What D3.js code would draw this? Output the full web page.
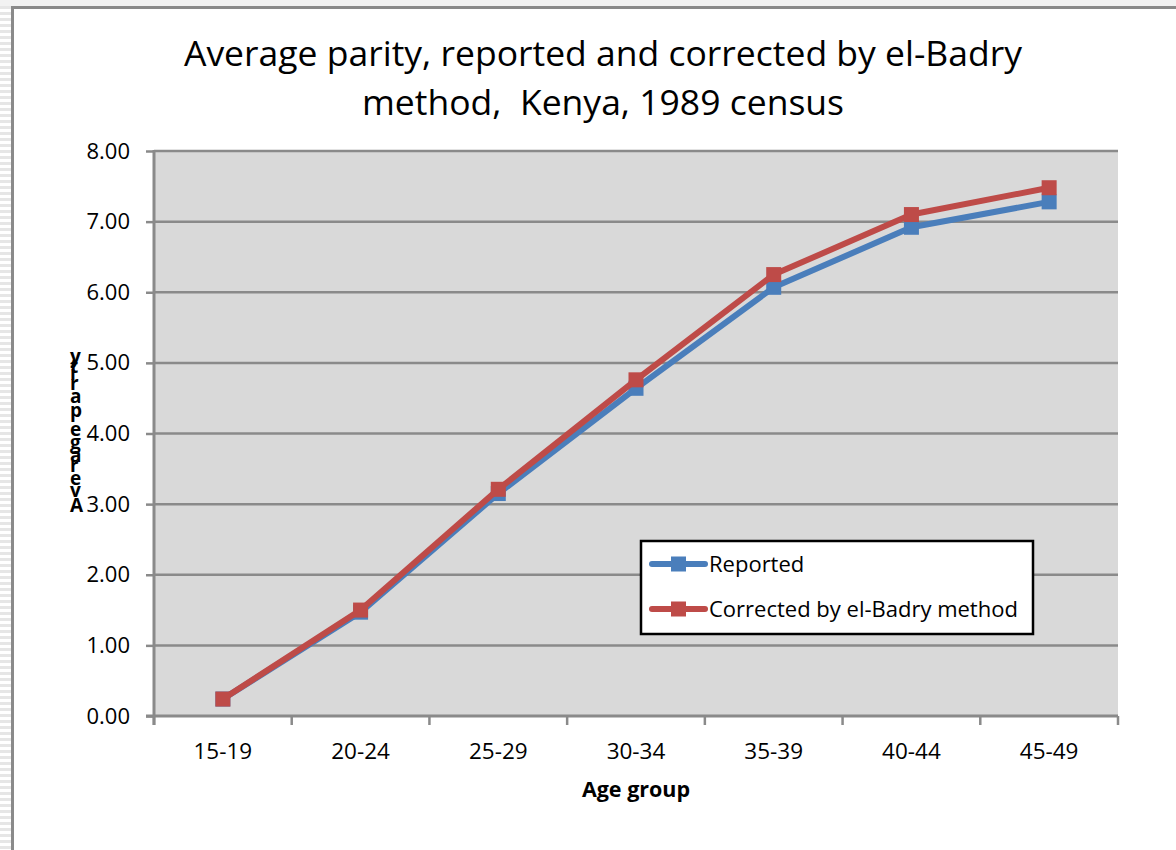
<!DOCTYPE html>
<html>
<head>
<meta charset="utf-8">
<script src="https://cdn.jsdelivr.net/npm/d3@7"></script>
<style>
  html, body { margin: 0; padding: 0; background: #fff; }
  svg { display: block; }
  text { white-space: pre; }
</style>
</head>
<body>
<svg id="chart" width="1176" height="850"></svg>
<script>
// Age groups on the x axis
const ageGroups = ["15-19", "20-24", "25-29", "30-34", "35-39", "40-44", "45-49"];
// Average parity, as reported in the census
const reported = [0.24, 1.47, 3.15, 4.64, 6.07, 6.92, 7.28];
// Average parity after the el-Badry correction
const corrected = [0.24, 1.50, 3.21, 4.76, 6.25, 7.10, 7.48];
// Y axis ticks
const yTicks = [0, 1, 2, 3, 4, 5, 6, 7, 8];

const seriesNames = ["Reported", "Corrected by el-Badry method"];
const seriesColors = ["#4a7ebb", "#be4b48"];

const svg = d3.select("#chart");
const W = 1176, H = 850;
const font = "'Open Sans', Lato, 'DejaVu Sans', sans-serif";

// Page frame: striped strip on the left, light band on top, grey border
const defs = svg.append("defs");
const pat = defs.append("pattern")
  .attr("id", "stripes").attr("width", 12).attr("height", 6)
  .attr("patternUnits", "userSpaceOnUse");
pat.append("rect").attr("width", 12).attr("height", 6).attr("fill", "#ffffff");
pat.append("rect").attr("y", 0).attr("width", 12).attr("height", 3).attr("fill", "#e6e6e6");
svg.append("rect").attr("x", 0).attr("y", 0).attr("width", 11).attr("height", H).attr("fill", "url(#stripes)");
svg.append("rect").attr("x", 0).attr("y", 0).attr("width", W).attr("height", 6).attr("fill", "#f2f2f2");
svg.append("rect").attr("x", 11).attr("y", 6).attr("width", W - 11).attr("height", H - 6).attr("fill", "#ffffff");
svg.append("path")
  .attr("d", `M12.5,${H} L12.5,7.5 L${W},7.5`)
  .attr("fill", "none").attr("stroke", "#8a8a8a").attr("stroke-width", 3);

// Plot area
const plot = { left: 154, right: 1118, top: 151, bottom: 716 };

const x = d3.scaleBand().domain(ageGroups).range([plot.left, plot.right]).padding(0);
const y = d3.scaleLinear().domain([0, 8]).range([plot.bottom, plot.top]);

svg.append("rect")
  .attr("x", plot.left).attr("y", plot.top)
  .attr("width", plot.right - plot.left).attr("height", plot.bottom - plot.top)
  .attr("fill", "#d9d9d9");

// Horizontal gridlines
svg.append("g").selectAll("line").data(yTicks.slice(1)).join("line")
  .attr("x1", plot.left).attr("x2", plot.right)
  .attr("y1", d => y(d)).attr("y2", d => y(d))
  .attr("stroke", "#8a8a8a").attr("stroke-width", 2.5);

// Y axis
const yAxis = svg.append("g")
  .attr("transform", `translate(${plot.left},0)`)
  .call(d3.axisLeft(y).tickValues(yTicks).tickFormat(d3.format(".2f")).tickSize(8).tickPadding(16));
yAxis.select(".domain").attr("stroke", "#8a8a8a").attr("stroke-width", 3)
  .attr("d", `M0,${plot.top - 1}V${plot.bottom + 9}`);
yAxis.selectAll(".tick line").attr("stroke", "#8a8a8a").attr("stroke-width", 2.5);
yAxis.selectAll(".tick text")
  .attr("font-family", font).attr("font-size", 22).attr("fill", "#000");

// X axis with ticks at category boundaries
const xAxis = svg.append("g").attr("transform", `translate(0,${plot.bottom})`);
xAxis.append("line")
  .attr("x1", plot.left - 8).attr("x2", plot.right)
  .attr("stroke", "#8a8a8a").attr("stroke-width", 3);
const bounds = ageGroups.map(d => x(d)).concat([x(ageGroups[ageGroups.length - 1]) + x.bandwidth()]);
xAxis.selectAll("line.tk").data(bounds).join("line").attr("class", "tk")
  .attr("x1", d => d).attr("x2", d => d).attr("y1", 0).attr("y2", 9)
  .attr("stroke", "#8a8a8a").attr("stroke-width", 2.5);
xAxis.selectAll("text").data(ageGroups).join("text")
  .attr("x", d => x(d) + x.bandwidth() / 2).attr("y", 43)
  .attr("text-anchor", "middle")
  .attr("font-family", font).attr("font-size", 22.5).attr("fill", "#000")
  .text(d => d);

// Axis titles
svg.append("text")
  .attr("x", (plot.left + plot.right) / 2).attr("y", 797)
  .attr("text-anchor", "middle")
  .attr("font-family", font).attr("font-size", 21.5).attr("font-weight", "bold")
  .text("Age group");

// Vertical title: runs bottom-to-top with each glyph turned upright
svg.append("text")
  .attr("transform", "translate(70,512) rotate(-90)")
  .attr("rotate", "90")
  .attr("letter-spacing", 1.6)
  .attr("font-family", font).attr("font-size", 19).attr("font-weight", "bold")
  .text("Average parity");

// Chart title
const title = svg.append("text")
  .attr("text-anchor", "middle")
  .attr("font-family", font).attr("font-size", 35.5).attr("fill", "#000");
title.append("tspan").attr("x", 603).attr("y", 66).text("Average parity, reported and corrected by el-Badry");
title.append("tspan").attr("x", 603).attr("y", 115).text("method,  Kenya, 1989 census");

// Series lines and markers
const line = d3.line()
  .x((d, i) => x(ageGroups[i]) + x.bandwidth() / 2)
  .y(d => y(d));

[reported, corrected].forEach((vals, s) => {
  const g = svg.append("g");
  g.append("path").datum(vals)
    .attr("d", line).attr("fill", "none")
    .attr("stroke", seriesColors[s]).attr("stroke-width", 6)
    .attr("stroke-linejoin", "round").attr("stroke-linecap", "round");
  g.selectAll("rect").data(vals).join("rect")
    .attr("x", (d, i) => x(ageGroups[i]) + x.bandwidth() / 2 - 7.5)
    .attr("y", d => y(d) - 7.5)
    .attr("width", 15).attr("height", 15)
    .attr("fill", seriesColors[s]);
});

// Legend
const lg = svg.append("g").attr("transform", "translate(641,541)");
lg.append("rect").attr("width", 392).attr("height", 93)
  .attr("fill", "#fff").attr("stroke", "#000").attr("stroke-width", 2.5);
seriesNames.forEach((name, s) => {
  const cy = 23 + s * 45;
  lg.append("line").attr("x1", 11).attr("x2", 64).attr("y1", cy).attr("y2", cy)
    .attr("stroke", seriesColors[s]).attr("stroke-width", 6).attr("stroke-linecap", "round");
  lg.append("rect").attr("x", 30).attr("y", cy - 7.5).attr("width", 15).attr("height", 15)
    .attr("fill", seriesColors[s]);
  lg.append("text").attr("x", 68).attr("y", cy + 8)
    .attr("font-family", font).attr("font-size", 22).attr("fill", "#000")
    .text(name);
});
</script>
</body>
</html>
